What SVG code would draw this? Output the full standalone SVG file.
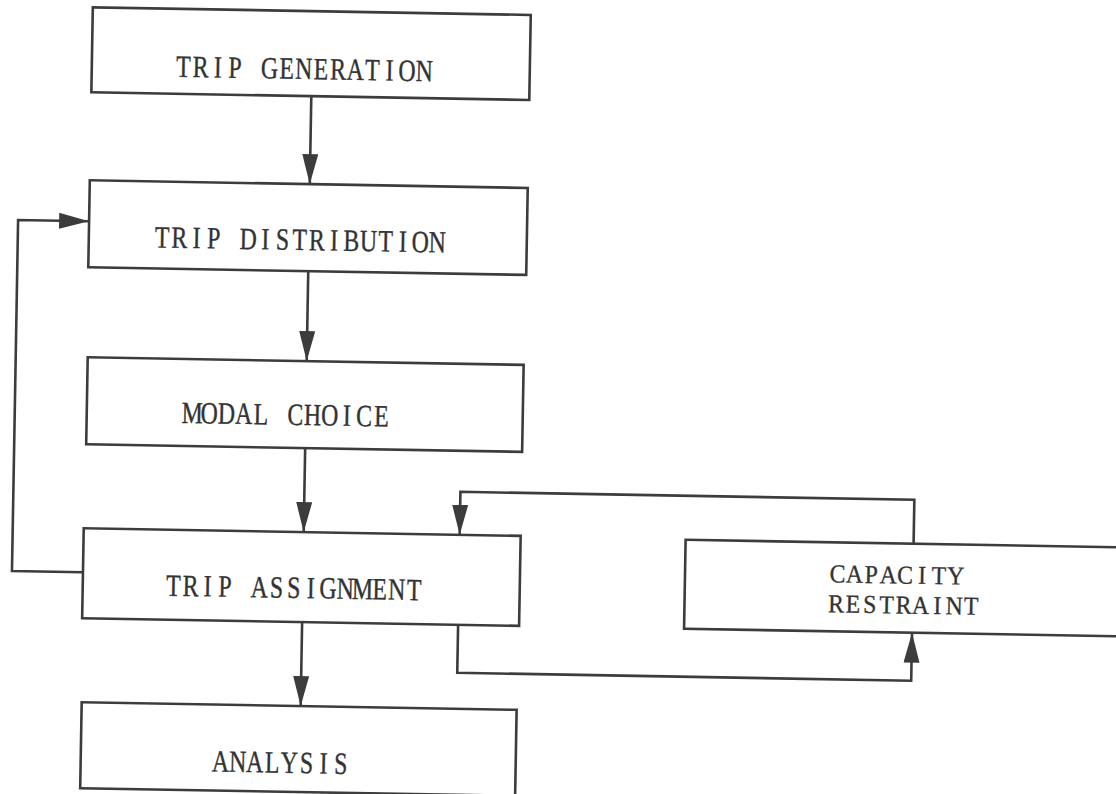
<svg xmlns="http://www.w3.org/2000/svg" width="1116" height="794" viewBox="0 0 1116 794">
  <defs>
    <marker id="arrow" markerUnits="userSpaceOnUse" markerWidth="30" markerHeight="16" refX="30" refY="8" orient="auto" viewBox="0 0 30 16">
      <path d="M0,0 L30,8 L0,16 Z" fill="#3c3c3c"/>
    </marker>
  </defs>
  <style>
    .box { fill: #ffffff; stroke: #3c3c3c; stroke-width: 2.6; }
    .lbl { font-family: "Liberation Serif", "DejaVu Serif", serif; font-size: 28px; fill: #333333; stroke: #333333; stroke-width: 0.35; text-anchor: middle; }
    .conn { fill: none; stroke: #3c3c3c; stroke-width: 2.6; }
    .arr { marker-end: url(#arrow); }
  </style>
  <rect width="1116" height="794" fill="#ffffff"/>
  <g transform="rotate(1 300 400)">
    <g id="trip-generation">
      <rect class="box" x="86" y="11" width="438" height="85"/>
      <text class="lbl" transform="translate(298 79) scale(0.85 1.1)" y="0" x="-141.65 -121.41 -101.18 -80.94 -60.71 -40.47 -20.24 0 20.24 40.47 60.71 80.94 101.18 121.41 141.65">TRIP GENERATION</text>
    </g>
    <g id="trip-distribution">
      <rect class="box" x="86" y="184" width="438" height="87"/>
      <text class="lbl" transform="translate(297 250) scale(0.85 1.1)" y="0" x="-161.88 -141.65 -121.41 -101.18 -80.94 -60.71 -40.47 -20.24 0 20.24 40.47 60.71 80.94 101.18 121.41 141.65 161.88">TRIP DISTRIBUTION</text>
    </g>
    <g id="modal-choice">
      <rect class="box" x="87" y="361" width="436" height="87"/>
      <text class="lbl" transform="translate(287 425) scale(0.85 1.1)" y="0" x="-111.29 -91.06 -70.82 -50.59 -30.35 -10.12 10.12 30.35 50.59 70.82 91.06 111.29">MODAL CHOICE</text>
    </g>
    <g id="trip-assignment">
      <rect class="box" x="86" y="532" width="437" height="90"/>
      <text class="lbl" transform="translate(297 598) scale(0.85 1.1)" y="0" x="-141.65 -121.41 -101.18 -80.94 -60.71 -40.47 -20.24 0 20.24 40.47 60.71 80.94 101.18 121.41 141.65">TRIP ASSIGNMENT</text>
    </g>
    <g id="analysis">
      <rect class="box" x="87" y="706" width="435" height="86"/>
      <text class="lbl" transform="translate(287 773) scale(0.85 1.1)" y="0" x="-70.82 -50.59 -30.35 -10.12 10.12 30.35 50.59 70.82">ANALYSIS</text>
    </g>
    <g id="capacity-restraint">
      <rect class="box" x="688" y="533" width="460" height="89"/>
      <text class="lbl" transform="translate(840.5 573) scale(0.85 0.92)" y="0" x="0 19.88 39.76 59.65 79.53 99.41 119.29 139.18">CAPACITY</text>
      <text class="lbl" transform="translate(839.5 603) scale(0.85 0.92)" y="0" x="0 19.88 39.76 59.65 79.53 99.41 119.29 139.18 159.06">RESTRAINT</text>
    </g>
    <g id="connectors">
      <path class="conn arr" d="M306,96 L306,184"/>
      <path class="conn arr" d="M306,271 L306,361"/>
      <path class="conn arr" d="M306,448 L306,532"/>
      <path class="conn arr" d="M306,622 L306,706"/>
      <path class="conn arr" d="M86,576 L15,576 L15,225 L86,225"/>
      <path class="conn arr" d="M916,533 L916,489 L462,489 L462,532"/>
      <path class="conn arr" d="M462,622 L462,670 L916,670 L916,622"/>
    </g>
  </g>
</svg>
